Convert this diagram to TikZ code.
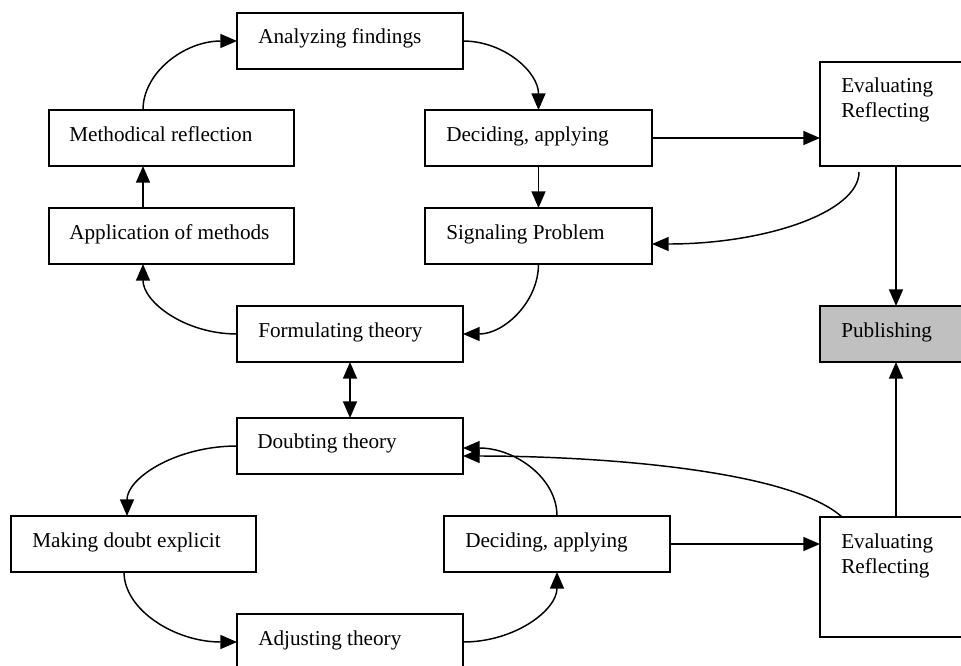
\documentclass[tikz,border=0pt]{standalone}
\usepackage{fontspec}
\setmainfont{Liberation Serif}
\usetikzlibrary{arrows.meta,calc}
\definecolor{pubgray}{RGB}{192,192,192}
\begin{document}
\begin{tikzpicture}[x=0.75pt,y=-0.75pt,
  box/.style={draw, line width=0.9pt, anchor=north west, inner sep=0pt, outer sep=0pt},
  sz/.style 2 args={minimum width=#1*0.75pt, minimum height=#2*0.75pt},
  lbl/.style={anchor=base west, inner sep=0pt, font=\fontsize{15.9}{18.75}\selectfont},
  tip/.tip={Triangle[length=12.5pt,width=10.5pt]},
  conn/.style={line width=1.1pt, -tip},
  conn2/.style={line width=1.1pt, tip-tip},
]
\clip (0,0) rectangle (961,665);
\fill[white] (0,0) rectangle (961,665);

% boxes
\node[box, sz={226}{56}] (af) at (237,13) {};
\node[box, sz={245}{56}] (mr) at (49,110) {};
\node[box, sz={245}{56}] (am) at (49,208) {};
\node[box, sz={227}{56}] (dA) at (425,110) {};
\node[box, sz={227}{56}] (sp) at (425,208) {};
\node[box, sz={152}{104}] (evA) at (820,62) {};
\node[box, sz={152}{56}, fill=pubgray] (pb) at (820,306) {};
\node[box, sz={226}{56}] (ft) at (237,306) {};
\node[box, sz={226}{56}] (dt) at (237,418) {};
\node[box, sz={245}{56}] (md) at (11,516) {};
\node[box, sz={226}{56}] (dB) at (444,516) {};
\node[box, sz={152}{120}] (evB) at (820,517) {};
\node[box, sz={226}{56}] (at) at (237,614) {};

% labels
\node[lbl] (afT) at ($(af.north west)+(21,30.5)$) {Analyzing findings};
\node[lbl] (mrT) at ($(mr.north west)+(20,31)$) {Methodical reflection};
\node[lbl] (amT) at ($(am.north west)+(20,31)$) {Application of methods};
\node[lbl] (dAT) at ($(dA.north west)+(21,31)$) {Deciding, applying};
\node[lbl] (spT) at ($(sp.north west)+(21,31)$) {Signaling Problem};
\node[lbl] (evA1) at ($(evA.north west)+(21,30)$) {Evaluating};
\node[lbl] (evA2) at ($(evA.north west)+(21,55)$) {Reflecting};
\node[lbl] (pbT) at ($(pb.north west)+(21,31)$) {Publishing};
\node[lbl] (ftT) at ($(ft.north west)+(21,31)$) {Formulating theory};
\node[lbl] (dtT) at ($(dt.north west)+(20,30.5)$) {Doubting theory};
\node[lbl] (mdT) at ($(md.north west)+(21,31)$) {Making doubt explicit};
\node[lbl] (dBT) at ($(dB.north west)+(21,31)$) {Deciding, applying};
\node[lbl] (evB1) at ($(evB.north west)+(21,31)$) {Evaluating};
\node[lbl] (evB2) at ($(evB.north west)+(21,56)$) {Reflecting};
\node[lbl] (atT) at ($(at.north west)+(21,31)$) {Adjusting theory};

% connectors
\draw[conn] ($(am.north west)+(94,0)$) -- ($(mr.south west)+(94,0)$);
\draw[conn] ($(mr.north west)+(94,0)$) .. controls +(0,-38) and +(-52,0) .. (af.west);
\draw[conn] (af.east) .. controls +(41,0) and +(0,-38) .. (dA.north);
\draw[conn] (dA.south) -- (sp.north);
\draw[conn] (dA.east) -- (dA.east -| evA.west);
\draw[conn] ($(evA.south west)+(39,6)$) .. controls +(0,40) and +(114,0) .. ($(sp.east)+(0,8)$);
\draw[conn] (sp.south) .. controls +(0,38) and +(41,0) .. (ft.east);
\draw[conn] (ft.west) .. controls +(-52,0) and +(0,38) .. ($(am.south west)+(94,0)$);
\draw[conn2] (ft.south) -- (dt.north);
\draw[conn] (dt.west) .. controls +(-61,0) and +(0,-38) .. ($(md.north west)+(116,0)$);
\draw[conn] ($(md.south west)+(113,0)$) .. controls +(0,38) and +(-62,0) .. (at.west);
\draw[conn] (at.east) .. controls +(52,0) and +(0,38) .. (dB.south);
\draw[conn] (dB.north) .. controls +(0,-38) and +(52,0) .. ($(dt.east)+(0,2)$);
\draw[conn] (dB.east) -- (dB.east -| evB.west);
\draw[conn] ($(evB.north west)+(22,0)$) .. controls +(-52,-47) and +(137,0) .. ($(dt.east)+(0,10)$);
\draw[conn] (evB.north) -- (pb.south);
\draw[conn] (evA.south) -- (pb.north);
\end{tikzpicture}
\end{document}
